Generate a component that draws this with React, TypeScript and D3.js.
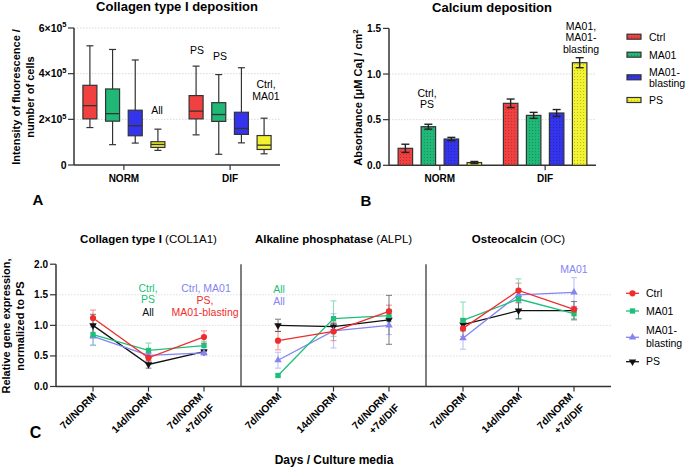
import React from "react";
import * as d3 from "d3";

const groups = ["NORM", "DIF"];
const seriesNames = ["Ctrl", "MA01", "MA01-blasting", "PS"];
const barColors = ["#f04040", "#1fb877", "#3434ec", "#f2f230"];
const lineColors = ["#f02c2c", "#1dbf7a", "#8484f2", "#111111"];

// Panel A: collagen deposition, box stats [min, q1, median, q3, max] for NORM, DIF
const colCtrl = [[164000, 202000, 260000, 349000, 522000], [132000, 202000, 236000, 304000, 433000]];
const colMA01 = [[89000, 192000, 225000, 333000, 506000], [47000, 191000, 221000, 273000, 396000]];
const colBlast = [[96000, 128000, 172000, 240000, 460000], [97000, 134000, 160000, 231000, 426000]];
const colPS = [[64000, 77000, 90000, 102000, 157000], [49000, 68000, 87000, 129000, 205000]];
const colTicks = [0, 200000, 400000, 600000];
const colNotes = [["All"], ["PS"], ["PS"], ["Ctrl,", "MA01"]];

// Panel B: calcium deposition, mean and error for NORM, DIF
const caCtrl = [0.186, 0.679];
const caMA01 = [0.423, 0.547];
const caBlast = [0.288, 0.573];
const caPS = [0.03, 1.124];
const caCtrlErr = [0.045, 0.047];
const caMA01Err = [0.027, 0.033];
const caBlastErr = [0.018, 0.038];
const caPSErr = [0.012, 0.055];
const caTicks = [0, 0.5, 1.0, 1.5];

// Panel C: relative gene expression
const timepoints = ["7d/NORM", "14d/NORM", "7d/NORM|+7d/DIF"];
const geneTitles = [["Collagen type I", "(COL1A1)"], ["Alkaline phosphatase", "(ALPL)"], ["Osteocalcin", "(OC)"]];
const colCtrlC = [1.12, 0.47, 0.81];
const colMA01C = [0.85, 0.59, 0.67];
const colBlastC = [0.82, 0.51, 0.55];
const colPSC = [1.0, 0.36, 0.57];
const colCtrlCErr = [0.13, 0.07, 0.1];
const colMA01CErr = [0.17, 0.12, 0.07];
const colBlastCErr = [0.15, 0.04, 0.04];
const colPSCErr = [0.18, 0.06, 0.03];
const alpCtrl = [0.75, 0.9, 1.23];
const alpMA01 = [0.18, 1.11, 1.16];
const alpBlast = [0.43, 0.91, 1.0];
const alpPS = [1.0, 0.98, 1.09];
const alpCtrlErr = [0.15, 0.15, 0.1];
const alpMA01Err = [0.02, 0.29, 0.1];
const alpBlastErr = [0.13, 0.28, 0.15];
const alpPSErr = [0.1, 0.05, 0.4];
const ocCtrl = [0.95, 1.57, 1.26];
const ocMA01 = [1.08, 1.43, 1.19];
const ocBlast = [0.79, 1.5, 1.54];
const ocPS = [1.01, 1.24, 1.24];
const ocCtrlErr = [0.13, 0.12, 0.05];
const ocMA01Err = [0.3, 0.33, 0.08];
const ocBlastErr = [0.18, 0.1, 0.24];
const ocPSErr = [0.1, 0.13, 0.15];
const cTicks = [0, 0.5, 1.0, 1.5, 2.0];

const FONT = "'Liberation Sans', Arial, Helvetica, sans-serif";
const AX = "#333";

function App() {
  // ---------- Panel A ----------
  const boxes = [colCtrl, colMA01, colBlast, colPS];
  const xA = d3.scalePoint().domain(groups).range([74, 280]).padding(0.47);
  const innerA = d3.scalePoint().domain(seriesNames).range([-34, 34]);
  const yA = d3.scaleLinear().domain([0, 600000]).range([165, 28]);
  const bw = 14;

  // ---------- Panel B ----------
  const means = [caCtrl, caMA01, caBlast, caPS];
  const errs = [caCtrlErr, caMA01Err, caBlastErr, caPSErr];
  const xB = d3.scalePoint().domain(groups).range([389, 596]).padding(0.483);
  const innerB = d3.scalePoint().domain(seriesNames).range([-34.5, 34.5]);
  const yB = d3.scaleLinear().domain([0, 1.5]).range([165.3, 28.4]);
  const bbw = 14.5;

  // ---------- Panel C ----------
  const genes = [
    { vals: [colCtrlC, colMA01C, colBlastC, colPSC], errs: [colCtrlCErr, colMA01CErr, colBlastCErr, colPSCErr] },
    { vals: [alpCtrl, alpMA01, alpBlast, alpPS], errs: [alpCtrlErr, alpMA01Err, alpBlastErr, alpPSErr] },
    { vals: [ocCtrl, ocMA01, ocBlast, ocPS], errs: [ocCtrlErr, ocMA01Err, ocBlastErr, ocPSErr] },
  ];
  const panelLeft = [56, 241, 426];
  const pw = 185;
  const yC = d3.scaleLinear().domain([0, 2]).range([386.5, 264.2]);
  const symbols = [
    d3.symbol(d3.symbolCircle, 30)(),
    d3.symbol(d3.symbolSquare, 28)(),
    d3.symbol(d3.symbolTriangle, 24)(),
    d3.symbol(d3.symbolTriangle, 24)(),
  ];
  const symRot = [0, 0, 0, 180];

  const line = d3.line<number>();

  return (
    <svg width={685} height={467} style={{ display: "block", position: "absolute", left: 0, top: 0 }} fontFamily={FONT}>
      <defs>
        <pattern id="dots" width="3" height="3" patternUnits="userSpaceOnUse">
          <rect x="1" y="1" width="0.8" height="0.8" fill="rgba(0,0,0,0.35)" />
        </pattern>
      </defs>
      <rect width={685} height={467} fill="#fff" />

      {/* ================= Panel A ================= */}
      <text x={177} y={11} textAnchor="middle" fontSize={13} fontWeight="bold">Collagen type I deposition</text>
      {colTicks.slice(1).map((t) => (
        <line key={t} x1={74} x2={280} y1={yA(t)} y2={yA(t)} stroke="#c8c8c8" strokeWidth={0.7} strokeDasharray="1.5,1.5" />
      ))}
      <line x1={74} x2={74} y1={yA(600000)} y2={yA(0)} stroke={AX} strokeWidth={1.5} />
      <line x1={74} x2={280} y1={yA(0)} y2={yA(0)} stroke={AX} strokeWidth={1.5} />
      {colTicks.map((t) => (
        <g key={t}>
          <line x1={68} x2={74} y1={yA(t)} y2={yA(t)} stroke={AX} strokeWidth={1.2} />
          <text x={66.5} y={yA(t) + 3.7} textAnchor="end" fontSize={10.5} fontWeight="bold">
            {t === 0 ? "0" : (
              <>
                {`${t / 100000}×10`}
                <tspan dy={-4.5} fontSize={7.5}>5</tspan>
              </>
            )}
          </text>
        </g>
      ))}
      {groups.map((g) => (
        <g key={g}>
          <line x1={xA(g)} x2={xA(g)} y1={yA(0)} y2={yA(0) + 5} stroke={AX} strokeWidth={1.2} />
          <text x={xA(g)} y={181.5} textAnchor="middle" fontSize={10} fontWeight="bold">{g}</text>
        </g>
      ))}
      <text transform="translate(20,97) rotate(-90)" textAnchor="middle" fontSize={11} fontWeight="bold">Intensity of fluorescence /</text>
      <text transform="translate(34,97) rotate(-90)" textAnchor="middle" fontSize={11} fontWeight="bold">number of cells</text>
      {boxes.map((b, si) =>
        groups.map((g, gi) => {
          const cx = (xA(g) as number) + (innerA(seriesNames[si]) as number);
          const [mn, q1, md, q3, mx] = b[gi];
          return (
            <g key={si + "-" + gi}>
              <line x1={cx} x2={cx} y1={yA(mx)} y2={yA(q3)} stroke={AX} strokeWidth={1.2} />
              <line x1={cx} x2={cx} y1={yA(q1)} y2={yA(mn)} stroke={AX} strokeWidth={1.2} />
              <line x1={cx - 3.5} x2={cx + 3.5} y1={yA(mx)} y2={yA(mx)} stroke={AX} strokeWidth={1.2} />
              <line x1={cx - 3.5} x2={cx + 3.5} y1={yA(mn)} y2={yA(mn)} stroke={AX} strokeWidth={1.2} />
              <rect x={cx - bw / 2} y={yA(q3)} width={bw} height={yA(q1) - yA(q3)} fill={barColors[si]} stroke={AX} strokeWidth={1.2} />
              <line x1={cx - bw / 2} x2={cx + bw / 2} y1={yA(md)} y2={yA(md)} stroke={AX} strokeWidth={1.3} />
            </g>
          );
        })
      )}
      {/* annotations A */}
      <text x={157} y={113.5} textAnchor="middle" fontSize={10.5}>{colNotes[0][0]}</text>
      <text x={197} y={53.5} textAnchor="middle" fontSize={10.5}>{colNotes[1][0]}</text>
      <text x={220} y={59.5} textAnchor="middle" fontSize={10.5}>{colNotes[2][0]}</text>
      <text x={266} y={87.5} textAnchor="middle" fontSize={10.5}>{colNotes[3][0]}</text>
      <text x={266} y={99.5} textAnchor="middle" fontSize={10.5}>{colNotes[3][1]}</text>
      <text x={38} y={205} textAnchor="middle" fontSize={15} fontWeight="bold">A</text>

      {/* ================= Panel B ================= */}
      <text x={492} y={12} textAnchor="middle" fontSize={13} fontWeight="bold">Calcium deposition</text>
      {caTicks.slice(1, 3).map((t) => (
        <line key={t} x1={389} x2={596} y1={yB(t)} y2={yB(t)} stroke="#c8c8c8" strokeWidth={0.7} strokeDasharray="1.5,1.5" />
      ))}
      <line x1={389} x2={389} y1={yB(1.5)} y2={yB(0)} stroke={AX} strokeWidth={1.5} />
      <line x1={389} x2={596} y1={yB(0)} y2={yB(0)} stroke={AX} strokeWidth={1.5} />
      {caTicks.map((t) => (
        <g key={t}>
          <line x1={383} x2={389} y1={yB(t)} y2={yB(t)} stroke={AX} strokeWidth={1.2} />
          <text x={381} y={yB(t) + 3.5} textAnchor="end" fontSize={10} fontWeight="bold">{t.toFixed(1)}</text>
        </g>
      ))}
      {groups.map((g) => (
        <g key={g}>
          <line x1={xB(g)} x2={xB(g)} y1={yB(0)} y2={yB(0) + 5} stroke={AX} strokeWidth={1.2} />
          <text x={xB(g)} y={181.5} textAnchor="middle" fontSize={10} fontWeight="bold">{g}</text>
        </g>
      ))}
      <text transform="translate(362,97.5) rotate(-90)" textAnchor="middle" fontSize={11} fontWeight="bold">
        Absorbance [μM Ca] / cm<tspan dy={-4} fontSize={8}>2</tspan>
      </text>
      {means.map((m, si) =>
        groups.map((g, gi) => {
          const cx = (xB(g) as number) + (innerB(seriesNames[si]) as number);
          const top = yB(m[gi]);
          const e = errs[si][gi];
          return (
            <g key={si + "-" + gi}>
              <rect x={cx - bbw / 2} y={top} width={bbw} height={yB(0) - top} fill={barColors[si]} />
              <rect x={cx - bbw / 2} y={top} width={bbw} height={yB(0) - top} fill="url(#dots)" stroke={AX} strokeWidth={1.2} />
              <line x1={cx} x2={cx} y1={yB(m[gi] + e)} y2={yB(m[gi] - e)} stroke="#222" strokeWidth={1.4} />
              <line x1={cx - 4} x2={cx + 4} y1={yB(m[gi] + e)} y2={yB(m[gi] + e)} stroke="#222" strokeWidth={1.4} />
              <line x1={cx - 4} x2={cx + 4} y1={yB(m[gi] - e)} y2={yB(m[gi] - e)} stroke="#222" strokeWidth={1.4} />
            </g>
          );
        })
      )}
      <text x={427} y={96.5} textAnchor="middle" fontSize={10.5}>Ctrl,</text>
      <text x={427} y={108} textAnchor="middle" fontSize={10.5}>PS</text>
      <text x={581} y={29.5} textAnchor="middle" fontSize={10.5}>MA01,</text>
      <text x={581} y={41} textAnchor="middle" fontSize={10.5}>MA01-</text>
      <text x={581} y={53} textAnchor="middle" fontSize={10.5}>blasting</text>
      {/* legend B */}
      {[36.7, 54.7, 77.3, 100].map((ly, i) => (
        <g key={i}>
          <rect x={627} y={ly - 2.5} width={14} height={5} fill={barColors[i]} />
          <rect x={627} y={ly - 2.5} width={14} height={5} fill="url(#dots)" stroke={AX} strokeWidth={1.2} />
        </g>
      ))}
      <text x={649} y={40.5} fontSize={10.5}>Ctrl</text>
      <text x={649} y={58.5} fontSize={10.5}>MA01</text>
      <text x={649} y={75.5} fontSize={10.5}>MA01-</text>
      <text x={649} y={87} fontSize={10.5}>blasting</text>
      <text x={649} y={103.8} fontSize={10.5}>PS</text>
      <text x={366} y={206} textAnchor="middle" fontSize={15} fontWeight="bold">B</text>

      {/* ================= Panel C ================= */}
      <text transform="translate(10,326) rotate(-90)" textAnchor="middle" fontSize={11} fontWeight="bold">Relative gene expression,</text>
      <text transform="translate(23.5,326) rotate(-90)" textAnchor="middle" fontSize={11} fontWeight="bold">normalized to PS</text>
      {cTicks.map((t) => (
        <g key={t}>
          <line x1={50} x2={56} y1={yC(t)} y2={yC(t)} stroke={AX} strokeWidth={1.2} />
          <text x={48} y={yC(t) + 3.5} textAnchor="end" fontSize={10} fontWeight="bold">{t.toFixed(1)}</text>
        </g>
      ))}
      {genes.map((gene, pi) => {
        const L = panelLeft[pi];
        const x = d3.scalePoint().domain(timepoints).range([L, L + pw]).padding(0.667);
        return (
          <g key={pi}>
            {cTicks.slice(1, 4).map((t) => (
              <line key={t} x1={L} x2={L + pw} y1={yC(t)} y2={yC(t)} stroke="#d0d0d0" strokeWidth={0.7} strokeDasharray="1.5,1.5" />
            ))}
            <line x1={L} x2={L} y1={yC(2)} y2={yC(0)} stroke={pi === 0 ? AX : "#555"} strokeWidth={1.5} />
            <line x1={L} x2={L + pw} y1={yC(0)} y2={yC(0)} stroke={AX} strokeWidth={1.5} />
            <text x={L + pw / 2} y={243.3} textAnchor="middle" fontSize={11.5}>
              <tspan fontWeight="bold">{geneTitles[pi][0]}</tspan> {geneTitles[pi][1]}
            </text>
            {timepoints.map((tp) => {
              const tx = x(tp) as number;
              const parts = tp.split("|");
              const two = parts.length > 1;
              return (
                <g key={tp}>
                  <line x1={tx} x2={tx} y1={yC(0)} y2={yC(0) + 5} stroke={AX} strokeWidth={1.2} />
                  <text transform={`translate(${two ? tx + 1.9 : tx + 4},${two ? 399.1 : 397}) rotate(-45)`} textAnchor="end" fontSize={10.3} fontWeight="bold">
                    {parts.map((p, k) => (
                      <tspan key={k} x={0} dy={k === 0 ? (two ? -2.8 : 0) : 15.5}>{p}</tspan>
                    ))}
                  </text>
                </g>
              );
            })}
            {gene.vals.map((v, si) => (
              <g key={si} opacity={0.5}>
                {v.map((val, k) => {
                  const tx = x(timepoints[k]) as number;
                  const e = gene.errs[si][k];
                  return (
                    <g key={k}>
                      <line x1={tx} x2={tx} y1={yC(val + e)} y2={yC(val - e)} stroke={lineColors[si]} strokeWidth={1.1} />
                      <line x1={tx - 3} x2={tx + 3} y1={yC(val + e)} y2={yC(val + e)} stroke={lineColors[si]} strokeWidth={1.1} />
                      <line x1={tx - 3} x2={tx + 3} y1={yC(val - e)} y2={yC(val - e)} stroke={lineColors[si]} strokeWidth={1.1} />
                    </g>
                  );
                })}
              </g>
            ))}
            {[3, 2, 1, 0].map((si) => {
              const v = gene.vals[si];
              const pts: [number, number][] = v.map((val, k) => [x(timepoints[k]) as number, yC(val)]);
              return (
                <g key={si}>
                  <path d={line(pts as any) || ""} fill="none" stroke={lineColors[si]} strokeWidth={1.3} />
                  {pts.map((p, k) => (
                    <path key={k} d={symbols[si] || ""} transform={`translate(${p[0]},${p[1]}) rotate(${symRot[si]})`} fill={lineColors[si]} />
                  ))}
                </g>
              );
            })}
          </g>
        );
      })}
      {/* annotations C */}
      <text x={148} y={292} textAnchor="middle" fontSize={10.5} fill={lineColors[1]}>Ctrl,</text>
      <text x={148} y={303.3} textAnchor="middle" fontSize={10.5} fill={lineColors[1]}>PS</text>
      <text x={148} y={315.5} textAnchor="middle" fontSize={10.5} fill={lineColors[3]}>All</text>
      <text x={206} y={292} textAnchor="middle" fontSize={10.5} fill={lineColors[2]}>Ctrl, MA01</text>
      <text x={205} y={304.3} textAnchor="middle" fontSize={10.5} fill={lineColors[0]}>PS,</text>
      <text x={205} y={315.5} textAnchor="middle" fontSize={10.5} fill={lineColors[0]}>MA01-blasting</text>
      <text x={279} y={292.7} textAnchor="middle" fontSize={10.5} fill={lineColors[1]}>All</text>
      <text x={279} y={304.7} textAnchor="middle" fontSize={10.5} fill={lineColors[2]}>All</text>
      <text x={574} y={272.7} textAnchor="middle" fontSize={10.5} fill={lineColors[2]}>MA01</text>
      {/* legend C */}
      {[293.3, 311, 337.3, 361.7].map((ly, i) => (
        <g key={i}>
          <line x1={626} x2={639} y1={ly} y2={ly} stroke={lineColors[i]} strokeWidth={1.3} />
          <path d={symbols[i] || ""} transform={`translate(632.5,${ly}) rotate(${symRot[i]})`} fill={lineColors[i]} />
        </g>
      ))}
      <text x={646} y={297} fontSize={10.5}>Ctrl</text>
      <text x={646} y={314.7} fontSize={10.5}>MA01</text>
      <text x={646} y={333.7} fontSize={10.5}>MA01-</text>
      <text x={646} y={347} fontSize={10.5}>blasting</text>
      <text x={646} y={365.4} fontSize={10.5}>PS</text>
      <text x={334} y={464} textAnchor="middle" fontSize={12} fontWeight="bold">Days / Culture media</text>
      <text x={35.5} y={438} textAnchor="middle" fontSize={16} fontWeight="bold">C</text>
    </svg>
  );
}

export default App;
